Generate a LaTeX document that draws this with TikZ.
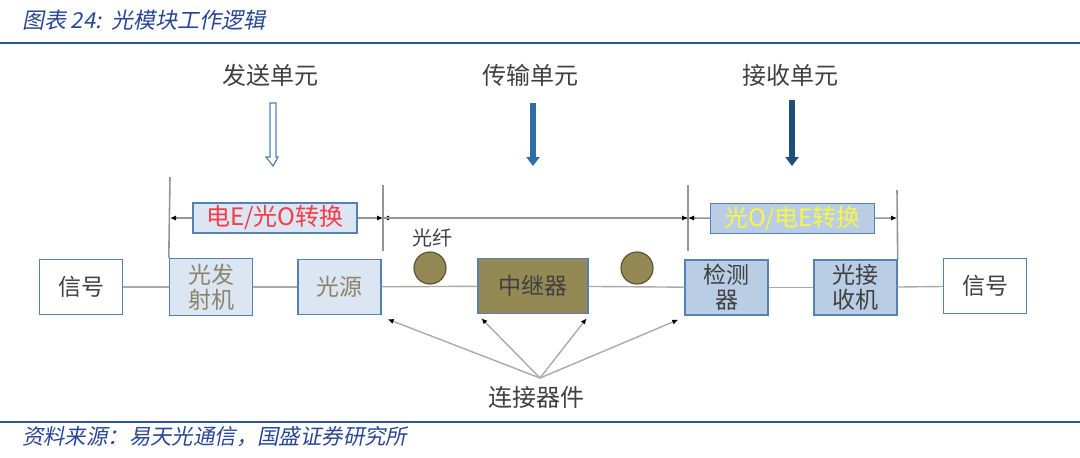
\documentclass[tikz,border=0pt]{standalone}
\usepackage{fontspec}
\setmainfont{Noto Sans CJK SC}
\newfontfamily\slantfont[FakeSlant=0.2]{Noto Sans CJK SC}
\usetikzlibrary{arrows.meta}
\definecolor{framebl}{RGB}{84,130,180}
\definecolor{lightfill}{RGB}{220,230,242}
\definecolor{midfill}{RGB}{185,205,229}
\definecolor{olivefill}{RGB}{148,137,84}
\definecolor{oliveedge}{RGB}{95,85,45}
\definecolor{txtgray}{RGB}{64,64,64}
\definecolor{txtolive}{RGB}{138,132,108}
\definecolor{linegray}{RGB}{170,170,170}
\definecolor{dimgray}{RGB}{150,150,150}
\definecolor{titleblue}{RGB}{40,70,150}
\definecolor{ruleblue}{RGB}{47,85,151}
\definecolor{arrowblue}{RGB}{46,110,165}
\definecolor{arrowdark}{RGB}{31,78,121}
\definecolor{eored}{RGB}{245,60,70}
\definecolor{oeyellow}{RGB}{250,245,70}
\begin{document}
\begin{tikzpicture}[x=0.5pt,y=-0.5pt,
    box/.style={draw=framebl, line width=0.7pt, minimum width=41.5pt,
      minimum height=27.5pt, inner sep=0pt, align=center,
      font=\fontsize{11.5}{12.5}\selectfont, text=txtgray},
    lab/.style={font=\fontsize{11.5}{12.5}\selectfont, text=txtgray},
    fibre/.style={circle, draw=oliveedge, fill=olivefill, line width=0.6pt,
      minimum size=16pt, inner sep=0pt},
    conv/.style={box, minimum width=82pt, minimum height=15pt,
      font=\fontsize{12}{13}\selectfont},
    wire/.style={draw=linegray, line width=0.7pt},
    dim/.style={draw=dimgray, line width=0.8pt},
    tip/.style={-{Latex[length=3pt,width=2.6pt,color=black]}},
    unitarrow/.style={line width=3pt, -{Triangle[width=6.5pt,length=4.5pt]}},
    rule/.style={draw=ruleblue, line width=1.1pt}]
  \useasboundingbox (0,0) rectangle (1080,457);
  \draw
    (15,20) node[anchor=west, text=titleblue, font=\slantfont\fontsize{11}{12}\selectfont] (title){图表 24:\ \ 光模块工作逻辑}
    (15,437) node[anchor=west, text=titleblue, font=\slantfont\fontsize{10.7}{12}\selectfont] (source){资料来源：易天光通信，国盛证券研究所}
    (270,75) node[lab, font=\fontsize{12}{13}\selectfont] (sendU){发送单元}
    (530,75) node[lab, font=\fontsize{12}{13}\selectfont] (transU){传输单元}
    (790,75) node[lab, font=\fontsize{12}{13}\selectfont] (recvU){接收单元}
    (81,287) node[box, fill=white] (sigL){信号}
    (211,287) node[box, fill=lightfill, text=txtolive, minimum height=28.5pt] (tx){光发\\射机}
    (339.5,287) node[box, fill=lightfill, text=txtolive] (src){光源}
    (533,286) node[box, fill=olivefill, minimum width=55pt] (rep){中继器}
    (726.5,287.5) node[box, fill=midfill] (det){检测\\器}
    (855.5,287.5) node[box, fill=midfill] (rx){光接\\收机}
    (985,286) node[box, fill=white] (sigR){信号}
    (430,268) node[fibre] (fib1){}
    (637,268) node[fibre] (fib2){}
    (432,238) node[lab, font=\fontsize{10}{11}\selectfont] (fibL){光纤}
    (275,218) node[conv, fill=lightfill, text=eored] (eo){电E/光O转换}
    (792.5,218.5) node[conv, fill=midfill, text=oeyellow] (oe){光O/电E转换}
    (536,397) node[lab, font=\fontsize{12}{13}\selectfont] (connL){连接器件};
  \coordinate (dA) at (170,218);
  \coordinate (dAtop) at (170,177);
  \coordinate (dB) at (383,218);
  \coordinate (dBtop) at (383,185);
  \coordinate (dBbot) at (383,251);
  \coordinate (dC) at (688,218);
  \coordinate (dCtop) at (688,185);
  \coordinate (dCbot) at (688,251);
  \coordinate (dD) at (897,218);
  \coordinate (dDtop) at (897,190);
  \coordinate (hub) at (540,378);
  \coordinate (sendA) at (273,103);
  \coordinate (transA) at (533,103);
  \coordinate (transB) at (533,166);
  \coordinate (recvA) at (792,100);
  \coordinate (recvB) at (792,166);
  \draw[rule] (0,43) -- (1080,43);
  \draw[rule] (0,422) -- (1080,422);
  \draw[draw=framebl, fill=white, line width=0.6pt]
    ([xshift=-1.5pt]sendA) -- ([xshift=1.5pt]sendA) -- ++(0,54) -- ++(2,0)
    -- (273,166) -- (266,157) -- ++(4,0) -- cycle;
  \draw[unitarrow, arrowblue] (transA) to (transB);
  \draw[unitarrow, arrowdark] (recvA) to (recvB);
  \begin{scope}[wire]
    \draw (sigL) to (tx);
    \draw (tx) to (src);
    \draw (src) to (rep);
    \draw (rep) to (det);
    \draw (det) to (rx);
    \draw (rx) to (sigR);
  \end{scope}
  \begin{scope}[dim]
    \draw (dAtop) to (tx.north west);
    \draw (dBtop) to (dBbot);
    \draw (dCtop) to (dCbot);
    \draw (dDtop) to (rx.north east);
    \draw[tip] (eo) to (dA);
    \draw[tip] (eo) to (dB);
    \draw[tip] (dC) to (dB);
    \draw[tip] (dB) to (dC);
    \draw[tip] (oe) to (dC);
    \draw[tip] (oe) to (dD);
  \end{scope}
  \begin{scope}[wire, tip]
    \draw (hub) to ([shift={(3pt,-2pt)}]src.south east);
    \draw (hub) to ([shift={(2pt,-2pt)}]rep.south west);
    \draw (hub) to ([shift={(-1pt,-2pt)}]rep.south east);
    \draw (hub) to ([shift={(-3pt,-2pt)}]det.south west);
  \end{scope}
\end{tikzpicture}
\end{document}
